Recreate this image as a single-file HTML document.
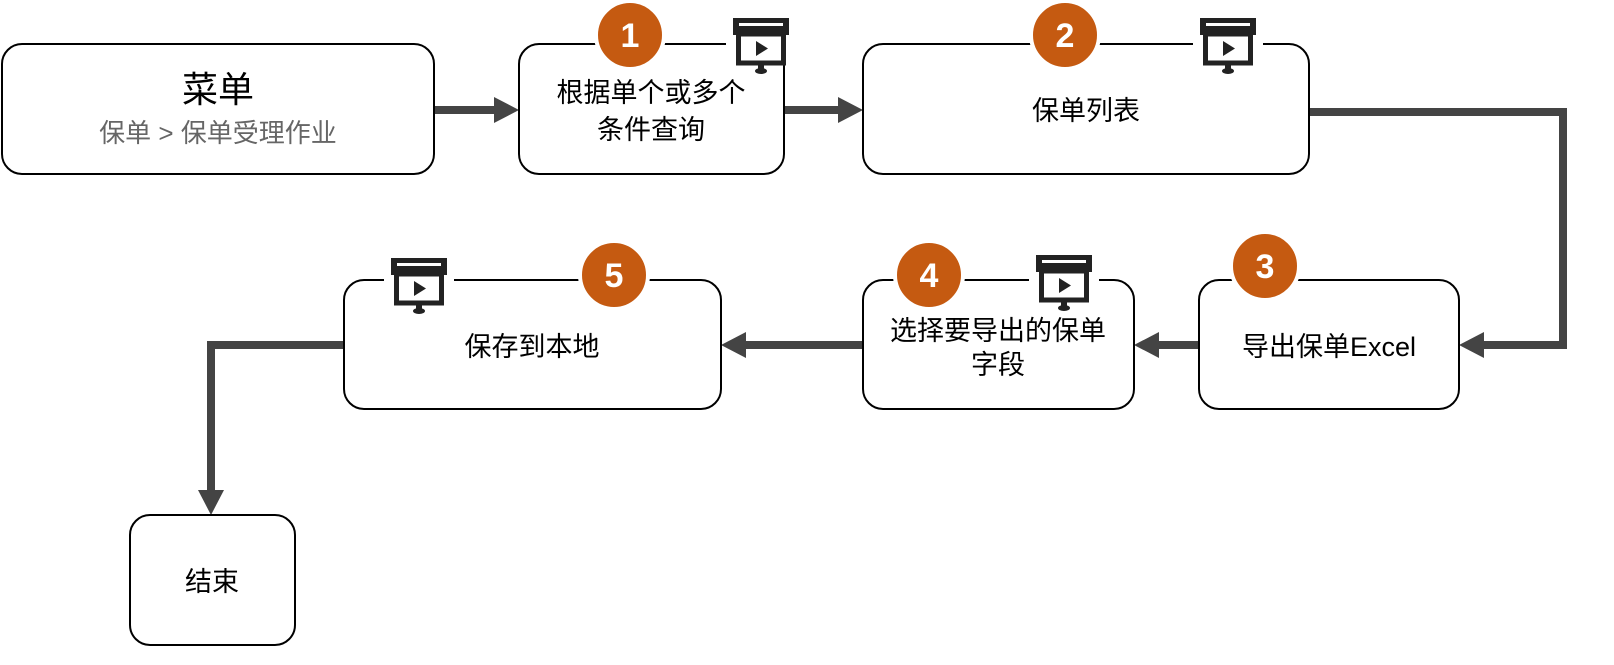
<!DOCTYPE html>
<html><head><meta charset="utf-8"><style>
html,body{margin:0;padding:0;background:#fff;}
svg{display:block;}
text{font-family:"Liberation Sans","Noto Sans CJK SC",sans-serif;}
</style></head><body>
<svg width="1614" height="665" viewBox="0 0 1614 665" xmlns="http://www.w3.org/2000/svg">
<defs>
<g id="ic">
<rect x="0" y="0" width="56" height="17" fill="#222"/>
<rect x="6" y="5" width="44" height="3" fill="#fff"/>
<rect x="5.5" y="16" width="45" height="29" fill="#fff" stroke="#222" stroke-width="5"/>
<polygon points="23,23 23,38 35,30.5" fill="#222"/>
<rect x="25" y="47" width="6" height="5" fill="#222"/>
<ellipse cx="28" cy="53" rx="6" ry="3" fill="#222"/>
</g>
</defs>
<g fill="none" stroke="#444" stroke-width="8">
<line x1="434" y1="110" x2="496" y2="110"/>
<line x1="784" y1="110" x2="840" y2="110"/>
<polyline points="1309,112 1563,112 1563,345 1482,345"/>
<line x1="1199" y1="345" x2="1157" y2="345"/>
<line x1="863" y1="345" x2="744" y2="345"/>
<polyline points="344,345 211,345 211,492"/>
</g>
<g fill="#444">
<polygon points="519,110 494,97 494,123"/>
<polygon points="863,110 838,97 838,123"/>
<polygon points="1459,345 1484,332 1484,358"/>
<polygon points="1134,345 1159,332 1159,358"/>
<polygon points="721,345 746,332 746,358"/>
<polygon points="211,515 198,490 224,490"/>
</g>
<g fill="#fff" stroke="#000" stroke-width="2">
<rect x="2" y="44" width="432" height="130" rx="20"/>
<rect x="519" y="44" width="265" height="130" rx="20"/>
<rect x="863" y="44" width="446" height="130" rx="20"/>
<rect x="1199" y="280" width="260" height="129" rx="20"/>
<rect x="863" y="280" width="271" height="129" rx="20"/>
<rect x="344" y="280" width="377" height="129" rx="20"/>
<rect x="130" y="515" width="165" height="130" rx="20"/>
</g>
<g fill="#fff">
<rect x="726" y="38" width="70" height="14"/>
<rect x="1193" y="38" width="70" height="14"/>
<rect x="1029" y="274" width="70" height="14"/>
<rect x="384" y="274" width="70" height="14"/>
</g>
<use href="#ic" x="733" y="18"/>
<use href="#ic" x="1200" y="18"/>
<use href="#ic" x="1036" y="255"/>
<use href="#ic" x="391" y="258"/>
<g fill="#C55A11" stroke="#fff" stroke-width="4">
<circle cx="630" cy="35" r="34"/>
<circle cx="1065" cy="35" r="34"/>
<circle cx="1265" cy="266" r="34"/>
<circle cx="929" cy="275" r="34"/>
<circle cx="614" cy="275" r="34"/>
</g>
<g fill="#fff" font-size="34" font-weight="bold" text-anchor="middle">
<text x="630" y="47">1</text>
<text x="1065" y="47">2</text>
<text x="1265" y="278">3</text>
<text x="929" y="287">4</text>
<text x="614" y="287">5</text>
</g>
<g fill="#000" font-size="27" text-anchor="middle">
<text x="218" y="102" font-size="36">菜单</text>
<text x="218" y="142" font-size="26" fill="#666">保单 &gt; 保单受理作业</text>
<text x="651" y="102">根据单个或多个</text>
<text x="651" y="139">条件查询</text>
<text x="1086" y="120">保单列表</text>
<text x="1329" y="356">导出保单Excel</text>
<text x="998" y="340">选择要导出的保单</text>
<text x="998" y="374">字段</text>
<text x="532" y="356">保存到本地</text>
<text x="212" y="591">结束</text>
</g>
</svg>
</body></html>
